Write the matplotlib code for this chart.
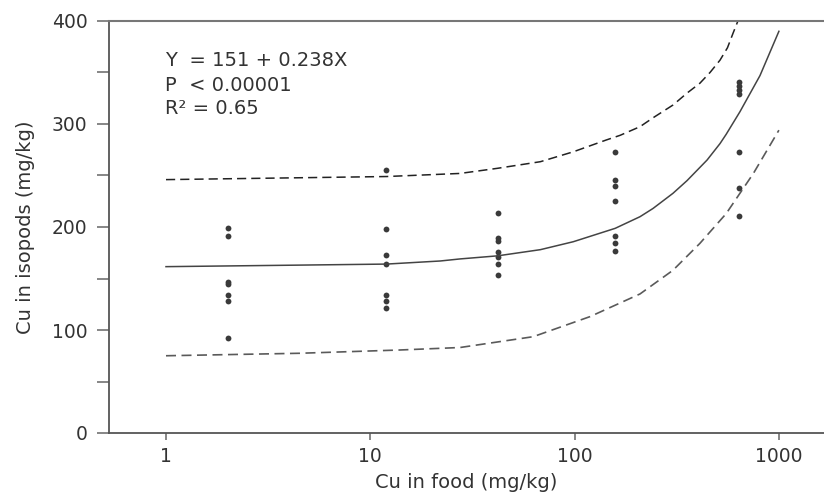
import numpy as np
import matplotlib
matplotlib.use('Agg')
import matplotlib.pyplot as plt
from matplotlib.ticker import FixedLocator, NullLocator

## food levels (mg/kg) and the isopod Cu values
food = [2, 12, 42, 158, 640]
cu_2 = [199, 191, 147, 145, 134, 128, 92]
cu_12 = [255, 198, 173, 164, 134, 128, 121]
cu_42 = [214, 189, 186, 176, 171, 164, 153]
cu_158 = [273, 246, 240, 225, 191, 184, 177]
cu_640 = [341, 337, 333, 329, 273, 238, 211]

## fitted line and the two dashed bands, read point by point
fit_x = [1, 4.5, 12, 22, 27.5, 42, 68, 98.5, 158, 209, 242, 303, 355, 445, 515, 552, 645, 808, 1000]
fit_y = [161.5, 163, 164, 167, 169, 172, 178, 185.7, 198.7, 210, 218, 232.7, 245, 265, 281, 290, 312, 347, 390]
up_x = [1, 12, 27.5, 42, 68, 98.5, 143, 167, 209, 242, 303, 355, 410, 460, 515, 560, 596, 630]
up_y = [246, 249, 252, 257, 263.4, 273, 284.5, 289, 297.4, 306, 318.4, 330, 339.5, 350, 362, 374, 388, 400]
lo_x = [1, 4.5, 14, 27.5, 62.7, 119, 209, 303, 410, 552, 750, 1000]
lo_y = [75, 77.4, 80.6, 83, 93.5, 113, 135, 158, 184, 213, 252, 294]

xticks = [1, 10, 100, 1000]
xtick_labels = ['1', '10', '100', '1000']
yticks = [0, 100, 200, 300, 400]
equation = ['Y  = 151 + 0.238X', 'P  < 0.00001', 'R² = 0.65']

plt.rcParams['font.family'] = ['DejaVu Sans']
fig = plt.figure(figsize=(8.24, 4.95), dpi=100)
ax = fig.add_axes([109/824, 62/495, 1 - 109/824, 412/495])

## scatter of every column
groups = [cu_2, cu_12, cu_42, cu_158, cu_640]
for xv, ys in zip(food, groups):
    ax.plot([xv] * len(ys), ys, 'o', color='#3a3a3a', markersize=4.2, markeredgewidth=0)

ax.plot(fit_x, fit_y, '-', color='#444444', lw=1.1)
ax.plot(up_x, up_y, '--', color='#222222', lw=1.1, dashes=(6, 3.3))
ax.plot(lo_x, lo_y, '--', color='#5a5a5a', lw=1.2, dashes=(6, 3.3))

ax.set_xscale('log')
ax.set_xlim(10 ** ((109 - 166) / 204.3), 10 ** ((824 - 166) / 204.3))
ax.set_ylim(0, 400)
ax.xaxis.set_major_locator(FixedLocator(xticks))
ax.xaxis.set_minor_locator(NullLocator())
ax.set_xticklabels(xtick_labels)
ax.set_yticks(yticks)
ax.set_yticks([50, 150, 250, 350], minor=True)

for s in ['left', 'bottom']:
    ax.spines[s].set_color('#555555')
    ax.spines[s].set_linewidth(1.3)
ax.spines['top'].set_color('#777777')
ax.spines['top'].set_linewidth(1.5)
ax.spines['right'].set_visible(False)

ax.tick_params(axis='y', which='both', direction='out', length=8.6, width=1.1,
               color='#666666', labelsize=13.5, labelcolor='#333333', pad=7)
ax.tick_params(axis='x', which='major', direction='out', length=5, width=1.1,
               color='#666666', labelsize=13.5, labelcolor='#333333', pad=5)

ax.set_xlabel('Cu in food (mg/kg)', fontsize=14, color='#333333', labelpad=5)
ax.set_ylabel('Cu in isopods (mg/kg)', fontsize=14, color='#333333', labelpad=12)

## regression text
ypos = [0.891, 0.830, 0.774]
for t, yy in zip(equation, ypos):
    ax.text(0.078, yy, t, transform=ax.transAxes, fontsize=14, color='#333333', va='baseline')

fig.savefig('out.png', dpi=100)
